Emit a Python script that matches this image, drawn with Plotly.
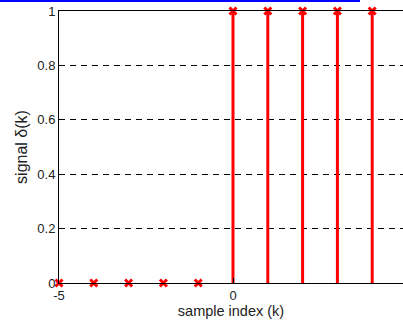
import plotly.graph_objects as go

k = [-5, -4, -3, -2, -1, 0, 1, 2, 3, 4, 5]
signal = [0, 0, 0, 0, 0, 1, 1, 1, 1, 1, 1]
x_ticks = [-5, 0, 5]
x_tick_labels = ["-5", "0", "5"]
y_ticks = [0, 0.2, 0.4, 0.6, 0.8, 1]
y_tick_labels = ["0", "0.2", "0.4", "0.6", "0.8", "1"]

W, H = 403, 323
L, T, B = 59, 11, 40
px_per_unit = 34.8
x_max = -5 + (W - L) / px_per_unit

stem_x, stem_y = [], []
for xi, yi in zip(k, signal):
    stem_x += [xi, xi, None]
    stem_y += [0, yi, None]

fig = go.Figure()
fig.add_trace(go.Scatter(x=stem_x, y=stem_y, mode="lines",
                         line=dict(color="#ff0000", width=3), hoverinfo="skip"))
fig.add_trace(go.Scatter(x=k, y=signal, mode="markers", cliponaxis=False,
                         marker=dict(symbol="x-thin", size=7, color="#ff0000",
                                     line=dict(color="#ff0000", width=3))))

fam = "Liberation Sans, Arial, sans-serif"
font = dict(family=fam, size=13, color="#222222")
fig.update_layout(
    width=W, height=H,
    margin=dict(l=L, r=0, t=T, b=B, pad=0),
    paper_bgcolor="white", plot_bgcolor="white",
    showlegend=False, font=font,
    xaxis=dict(range=[-5, x_max], tickvals=x_ticks, ticktext=x_tick_labels,
               showgrid=False, zeroline=False, showline=True, linecolor="black",
               linewidth=1, mirror=True, ticks="inside", ticklen=5, tickcolor="black",
               title=dict(text="sample index (k)", standoff=1,
                          font=dict(family=fam, size=14.5, color="#222222")),
               automargin=False),
    yaxis=dict(range=[0, 1], tickvals=y_ticks, ticktext=y_tick_labels,
               showgrid=True, gridcolor="#000000", gridwidth=1, griddash="6px,5px",
               zeroline=False, showline=True, linecolor="black", linewidth=1,
               ticks="inside", ticklen=5, tickcolor="black",
               title=dict(text="signal δ(k)", standoff=5), automargin=False),
)
fig.add_shape(type="line", xref="paper", yref="paper",
              x0=-L / (W - L), x1=(360 - L) / (W - L),
              y0=1 + (T - 1) / (H - T - B), y1=1 + (T - 1) / (H - T - B),
              line=dict(color="#0000ff", width=2))
fig.write_html("out.html", config={"displayModeBar": False},
               post_script="document.body.style.margin='0';document.body.style.overflow='hidden';")
